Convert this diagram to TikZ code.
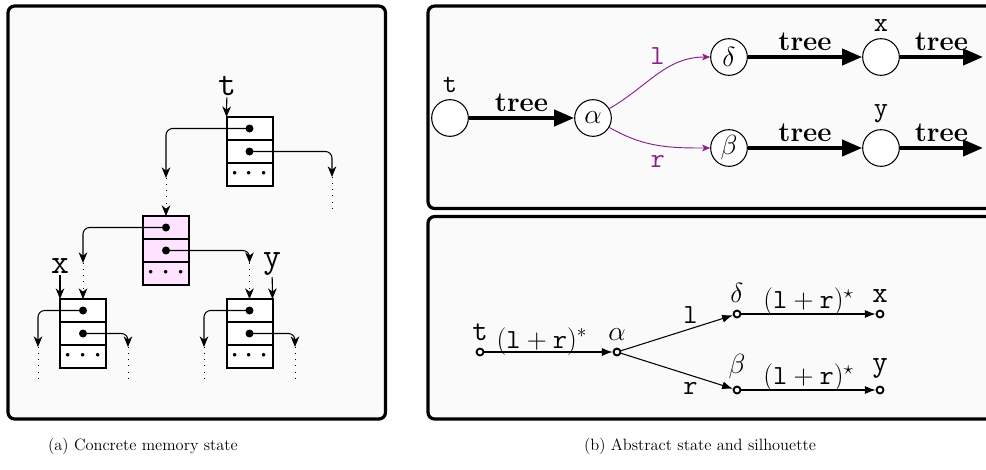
\documentclass[tikz,border=0pt]{standalone}
\usepackage{amssymb}
\usepackage{tikz}
\usetikzlibrary{arrows.meta,calc,positioning}
\definecolor{paneback}{RGB}{250,250,250}
\definecolor{cellpink}{RGB}{255,226,255}
\definecolor{fieldcol}{RGB}{140,30,140}
\newcommand{\silfont}{\fontsize{22.5}{27}\selectfont}
\tikzset{
  panel/.style={draw,line width=2.4pt,fill=paneback,rounded corners=5pt},
  cell/.style={draw,line width=1.5pt,outer sep=0pt,inner sep=0pt,minimum width=34.5pt,minimum height=17.25pt,fill=white,font=\fontsize{24}{28}\selectfont},
  ptr/.style={line width=.8pt,rounded corners=5pt,-{Stealth[length=8pt,width=6.5pt,inset=2.5pt]}},
  dots/.style={line width=.6pt,dash pattern=on .6pt off 4pt},
  var/.style={inner sep=1pt,font=\fontsize{26}{30}\selectfont\ttfamily},
  st/.style={circle,draw,line width=.8pt,fill=white,minimum size=27.5pt,inner sep=0pt,font=\huge},
  tree/.style={line width=3pt,-{Triangle[length=15pt,width=12pt]}},
  fld/.style={fieldcol,line width=.7pt,-{Stealth[length=6pt,width=5pt,inset=1.5pt]}},
  pt/.style={circle,draw,line width=1.4pt,fill=white,minimum size=5.2pt,inner sep=0pt},
  sil/.style={line width=.8pt,-{Latex[length=8pt,width=6pt]}}
}
\begin{document}
\begin{tikzpicture}[x=.75pt,y=-.75pt,every label/.style={font=\huge}]
\useasboundingbox(0,0)rectangle(986,469);
\clip(0,0)rectangle(986,469);
% panels
\draw[panel](8,6)rectangle(385.5,419);
\draw[panel](428,6)rectangle(1000,208.5);
\draw[panel](428,216.5)rectangle(1000,419);
% (a) concrete memory
\node[cell](T1)at(249.5,128.5){};\node[cell,below=0pt of T1](T2){};\node[cell,below=0pt of T2](T3){$\cdots$};
\node[cell,fill=cellpink](P1)at(166,227.5){};\node[cell,fill=cellpink,below=0pt of P1](P2){};\node[cell,fill=cellpink,below=0pt of P2](P3){$\cdots$};
\node[cell](L1)at(83,310.5){};\node[cell,below=0pt of L1](L2){};\node[cell,below=0pt of L2](L3){$\cdots$};
\node[cell](R1)at(249.5,310.5){};\node[cell,below=0pt of R1](R2){};\node[cell,below=0pt of R2](R3){$\cdots$};
\coordinate(Ta)at(166,178);\coordinate(Tb)at(332,177);\coordinate(Tbe)at(332,213);
\coordinate(Pa)at(83,263);\coordinate(Pb)at(249.5,263);
\coordinate(La)at(38,347);\coordinate(Lae)at(38,379);\coordinate(Lb)at(128,347);\coordinate(Lbe)at(128,379);
\coordinate(Ra)at(204,347);\coordinate(Rae)at(204,379);\coordinate(Rb)at(295,347);\coordinate(Rbe)at(295,379);
\draw[ptr](T1.center)-|(Ta);\draw[dots,-{Stealth[length=8pt,width=6.5pt,inset=2.5pt]}](Ta)--(P1.north);
\draw[ptr](T2.center)-|(Tb);\draw[dots](Tb)--(Tbe);
\draw[ptr](P1.center)-|(Pa);\draw[dots,-{Stealth[length=8pt,width=6.5pt,inset=2.5pt]}](Pa)--(L1.north);
\draw[ptr](P2.center)-|(Pb);\draw[dots,-{Stealth[length=8pt,width=6.5pt,inset=2.5pt]}](Pb)--(R1.north);
\draw[ptr](L1.center)-|(La);\draw[dots](La)--(Lae);\draw[ptr](L2.center)-|(Lb);\draw[dots](Lb)--(Lbe);
\draw[ptr](R1.center)-|(Ra);\draw[dots](Ra)--(Rae);\draw[ptr](R2.center)-|(Rb);\draw[dots](Rb)--(Rbe);
\foreach \c in {T1,T2,P1,P2,L1,L2,R1,R2}\fill(\c)circle(4);
\node[var](vt)at(227,86){t};\draw[ptr](vt)--(T1.north west);
\node[var](vx)at(60,266){x};\draw[ptr](vx)--(L1.north west);
\node[var](vy)at(272,264){y};\draw[ptr](vy)--(R1.north east);
% (b) abstract state
\node[st,label={[label distance=1.5pt]above:\texttt{t}}](at)at(450,118){};
\node[st](aa)at(593,118){$\alpha$};
\node[st](ad)at(729,57){$\delta$};\node[st](ab)at(729,148){$\beta$};
\node[st,label={[label distance=1.5pt]above:\texttt{x}}](ax)at(881,57){};
\node[st,label={[label distance=1.5pt]above:\texttt{y}}](ay)at(881,148){};
\coordinate(axe)at(983,57);\coordinate(aye)at(983,148);
\draw[tree](at)--node[above,font=\huge\bfseries]{tree}(aa);
\draw[tree](ad)--node[above,font=\huge\bfseries]{tree}(ax);\draw[tree](ax)--node[above,font=\huge\bfseries]{tree}(axe);
\draw[tree](ab)--node[above,font=\huge\bfseries]{tree}(ay);\draw[tree](ay)--node[above,font=\huge\bfseries]{tree}(aye);
\draw[fld](aa)to[out=30,in=180]node[above,pos=.5,yshift=4pt,font=\huge]{$\mathtt{l}$}(ad);
\draw[fld](aa)to[out=-30,in=180]node[below,pos=.5,yshift=-4pt,font=\huge]{$\mathtt{r}$}(ab);
% silhouette
\begin{scope}[every label/.style={font=\silfont,inner sep=5pt}]
\node[pt,label=above:\texttt{t}](bt)at(480,352){};\node[pt,label=above:$\alpha$](ba)at(617,352){};
\node[pt,label=above:$\delta$](bd)at(737,314){};\node[pt,label=above:$\beta$](bb)at(737,390){};
\node[pt,label=above:\texttt{x}](bx)at(880,314){};\node[pt,label=above:\texttt{y}](by)at(880,390){};
\end{scope}
\draw[sil](bt)--node[anchor=base,xshift=-5pt,yshift=3pt,font=\silfont]{$(\mathtt{l}+\mathtt{r})^*$}(ba);
\draw[sil](ba)--node[above,pos=.62,font=\silfont]{$\mathtt{l}$}(bd);
\draw[sil](ba)--node[below,pos=.62,yshift=-2pt,font=\silfont]{$\mathtt{r}$}(bb);
\draw[sil](bd)--node[anchor=base,yshift=4pt,font=\silfont]{$(\mathtt{l}+\mathtt{r})^\star$}(bx);
\draw[sil](bb)--node[anchor=base,yshift=4pt,font=\silfont]{$(\mathtt{l}+\mathtt{r})^\star$}(by);
% captions
\node[font=\fontsize{12.3}{15}\selectfont](capa)at(143,446){(a) Concrete memory state};
\node[font=\fontsize{12.3}{15}\selectfont](capb)at(700,446){(b) Abstract state and silhouette};
\end{tikzpicture}
\end{document}
